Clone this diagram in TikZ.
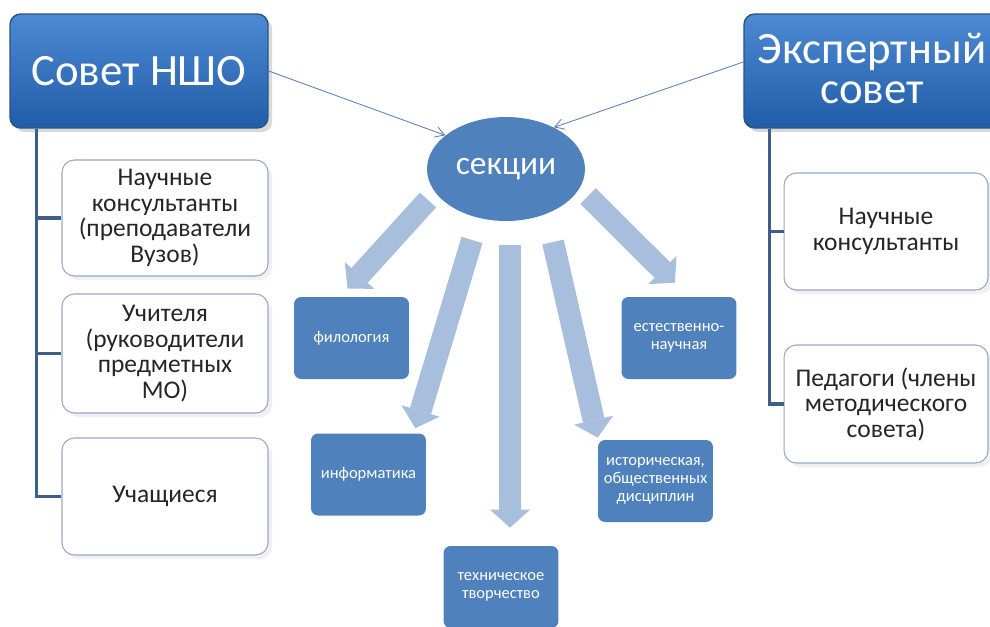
\documentclass[tikz,border=0pt]{standalone}
\usepackage{fontspec}
\setmainfont{Carlito}
\usetikzlibrary{arrows.meta,shapes.geometric,shadows}
\definecolor{headtop}{RGB}{78,138,210}
\definecolor{headbot}{RGB}{33,92,168}
\definecolor{headline}{RGB}{40,84,140}
\definecolor{secblue}{RGB}{79,129,189}
\definecolor{arrowblue}{RGB}{168,190,221}
\definecolor{leafline}{RGB}{150,168,198}
\definecolor{trunkblue}{RGB}{62,94,140}
\definecolor{linkblue}{RGB}{95,130,185}
\tikzset{
  headbox/.style  = {shape=rectangle, rounded corners=6pt, inner sep=0pt,
                     draw=headline, line width=0.8pt, align=center,
                     top color=headtop, bottom color=headbot, text=white,
                     font=\fontsize{25.5}{23}\selectfont,
                     drop shadow={opacity=0.3}},
  leafbox/.style  = {shape=rectangle, rounded corners=7pt, inner sep=0pt,
                     draw=leafline, line width=0.6pt, fill=white,
                     align=center, text=black!85,
                     font=\fontsize{14.5}{14.5}\selectfont,
                     drop shadow={opacity=0.12}},
  section/.style  = {shape=ellipse, fill=secblue, text=white, inner sep=0pt,
                     font=\fontsize{19}{19}\selectfont},
  topic/.style    = {shape=rectangle, rounded corners=4pt, inner sep=0pt,
                     fill=secblue, text=white, align=center,
                     font=\fontsize{9.4}{10.4}\selectfont,
                     minimum width=2.3cm, minimum height=1.64cm},
  bigarrow/.style = {draw=arrowblue, line width=12.5pt,
                     -{Triangle[length=10.2pt,width=22.7pt,line width=0pt]}},
  link/.style     = {draw=linkblue, line width=0.5pt,
                     -{Straight Barb[length=5pt,width=6pt]}},
  trunk/.style    = {draw=trunkblue, line width=1.8pt}
}
\begin{document}
\begin{tikzpicture}[x=0.02cm, y=-0.02cm]
  \useasboundingbox (0,0) rectangle (990,626);

  \node[headbox, minimum width=5.16cm, minimum height=2.28cm] (sov) at (139,71) {Совет НШО};
  \node[headbox, minimum width=5.12cm, minimum height=2.28cm] (eks) at (872,71)
    {\raisebox{3pt}{Экспертный}\\\raisebox{3pt}{совет}};

  \node[leafbox, minimum width=4.12cm, minimum height=2.32cm] (nauk) at (165,218)
    {Научные\\консультанты\\(преподаватели\\Вузов)};
  \node[leafbox, minimum width=4.12cm, minimum height=2.38cm] (uchit) at (165,353.5)
    {Учителя\\(руководители\\предметных\\МО)};
  \node[leafbox, minimum width=4.12cm, minimum height=2.34cm] (uchas) at (165,496.5) {Учащиеся};

  \node[leafbox, minimum width=4.08cm, minimum height=2.34cm] (konsult) at (886,231.5)
    {Научные\\консультанты};
  \node[leafbox, minimum width=4.08cm, minimum height=2.36cm] (pedag) at (886,404)
    {Педагоги (члены\\методического\\совета)};

  \draw[trunk] ([shift={(27,0)}]sov.south west) |- (nauk.west);
  \draw[trunk] ([shift={(27,0)}]sov.south west) |- (uchit.west);
  \draw[trunk] ([shift={(27,0)}]sov.south west) |- (uchas.west);
  \draw[trunk] ([shift={(26,0)}]eks.south west) |- (konsult.west);
  \draw[trunk] ([shift={(26,0)}]eks.south west) |- (pedag.west);

  \node[section, minimum width=3.16cm, minimum height=2.08cm] (sek) at (506,169) {секции};

  \node[topic] (filol) at (351.5,338) {филология};
  \node[topic] (estest) at (679,338) {естественно-\\научная};
  \node[topic] (inform) at (368.5,474.5) {информатика};
  \node[topic] (tehn) at (501,587) {техническое\\творчество};
  \node[topic] (istor) at (655.5,481) {историческая,\\общественных\\дисциплин};

  \draw[link] (sov.east) -- (sek.151);
  \draw[link] ([shift={(0,-9)}]eks.west) -- (sek.41);

  \draw[bigarrow] ([shift={(-78,31)}]sek.center) -- ([shift={(-4,-8)}]filol.north);
  \draw[bigarrow] ([shift={(-34,71)}]sek.center) -- ([shift={(-11,-5)}]inform.north east);
  \draw[bigarrow] ([shift={(4,24)}]sek.south) -- ([shift={(9,-18)}]tehn.north);
  \draw[bigarrow] ([shift={(47,73)}]sek.center) -- ([shift={(0,-2)}]istor.north west);
  \draw[bigarrow] ([shift={(82,27)}]sek.center) -- ([shift={(-4,-14)}]estest.north);
\end{tikzpicture}
\end{document}
